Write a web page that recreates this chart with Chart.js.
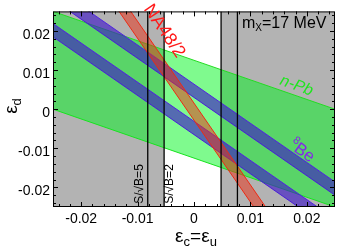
<!DOCTYPE html>
<html>
<head>
<meta charset="utf-8">
<script src="https://cdn.jsdelivr.net/npm/chart.js@4"></script>
<style>
  html, body { margin: 0; padding: 0; background: #fff; }
  #chart { display: block; }
</style>
</head>
<body>
<canvas id="chart" width="339" height="249"></canvas>
<script>
// x values at which every straight band edge is given
const xEnds = [-0.025, 0.025];

// n-Pb band (upper / lower edge, at xEnds)
const nPbUpper = [0.025, 0.0];
const nPbLower = [0.0, -0.025];

// 8Be bands, two branches
const beAHigh = [0.0314, -0.0186];
const beALow = [0.028, -0.022];
const beBHigh = [0.0219, -0.0281];
const beBLow = [0.0185, -0.0315];

// NA48/2 band
const naHigh = [0.0538, -0.0507];
const naLow = [0.0495, -0.0551];

// S/sqrt(B) = 5 and 2 lines
const sbLines = [-0.0082, -0.0053, 0.0048, 0.0077];

// grey excluded regions [from, to]
const greyLeft = [-0.025, -0.0053];
const greyRight = [0.0048, 0.025];

const xTicks = [-0.02, -0.01, 0, 0.01, 0.02];
const yTicks = [-0.02, -0.01, 0, 0.01, 0.02];

const FONT = "'Liberation Sans', Arial, Helvetica, sans-serif";

function pts(xs, ys) {
  return xs.map((x, i) => ({ x: x, y: ys[i] }));
}

function edge(ys, color, fillColor) {
  return {
    data: pts(xEnds, ys),
    borderColor: color,
    borderWidth: 1,
    backgroundColor: fillColor || "transparent",
    fill: fillColor ? "+1" : false,
    pointRadius: 0,
  };
}

function greyBox(range) {
  return {
    data: pts(range, [0.025, 0.025]),
    borderWidth: 0,
    backgroundColor: "#b3b3b3",
    fill: "start",
    pointRadius: 0,
  };
}

const datasets = [];
sbLines.forEach((v) => {
  datasets.push({
    data: pts([v, v], [-0.025, 0.025]),
    borderColor: "#000",
    borderWidth: 1.3,
    pointRadius: 0,
    fill: false,
  });
});
datasets.push(edge(naHigh, "#ee2a14", "rgba(235, 45, 20, 0.5)"));
datasets.push(edge(naLow, "#ee2a14"));
datasets.push(edge(beAHigh, "#5024e0", "rgba(60, 20, 200, 0.62)"));
datasets.push(edge(beALow, "#5024e0"));
datasets.push(edge(beBHigh, "#5024e0", "rgba(60, 20, 200, 0.62)"));
datasets.push(edge(beBLow, "#5024e0"));
datasets.push(edge(nPbUpper, "#22dd22", "rgba(0, 245, 30, 0.5)"));
datasets.push(edge(nPbLower, "#22dd22"));
datasets.push(greyBox(greyLeft));
datasets.push(greyBox(greyRight));

// draws rotated text made of pieces (for sub/superscripts)
function richText(ctx, parts, x, y, angle, align) {
  ctx.save();
  ctx.translate(x, y);
  ctx.rotate(angle);
  let w = 0;
  parts.forEach((p) => {
    ctx.font = p.f;
    p.w = ctx.measureText(p.t).width;
    w += p.w;
  });
  let cx = align === "center" ? -w / 2 : 0;
  parts.forEach((p) => {
    ctx.font = p.f;
    ctx.fillStyle = p.c || "#000";
    ctx.fillText(p.t, cx, p.dy || 0);
    cx += p.w;
  });
  ctx.restore();
}

const decor = {
  id: "decor",
  afterDatasetsDraw(chart) {
    const { ctx, chartArea: a, scales } = chart;
    const sx = scales.x;
    const sy = scales.y;
    ctx.save();
    ctx.strokeStyle = "#000";
    ctx.lineWidth = 1;
    ctx.strokeRect(a.left + 0.5, a.top + 0.5, a.right - a.left - 1, a.bottom - a.top - 1);

    ctx.beginPath();
    for (let i = -12; i <= 12; i++) {
      const len = i % 5 === 0 ? 5 : 3;
      const px = Math.round(sx.getPixelForValue(i * 0.002)) + 0.5;
      const py = Math.round(sy.getPixelForValue(i * 0.002)) + 0.5;
      ctx.moveTo(px, a.bottom);
      ctx.lineTo(px, a.bottom - len);
      ctx.moveTo(px, a.top);
      ctx.lineTo(px, a.top + len);
      ctx.moveTo(a.left, py);
      ctx.lineTo(a.left + len, py);
      ctx.moveTo(a.right, py);
      ctx.lineTo(a.right - len, py);
    }
    ctx.stroke();

    ctx.textBaseline = "alphabetic";
    const f = (s, style) => (style || "") + " " + s + "px " + FONT;

    richText(ctx, [
      { t: "m", f: f(16) },
      { t: "X", f: f(10), dy: 3 },
      { t: "=17 MeV", f: f(16) },
    ], 242, 28, 0, "left");

    richText(ctx, [{ t: "NA48/2", f: f(18), c: "#ff1a1a" }], 160, 34, 0.977, "center");
    richText(ctx, [{ t: "n-Pb", f: f(16, "italic"), c: "#1ee61e" }], 295, 90, 0.349, "center");
    richText(ctx, [
      { t: "8", f: f(11), c: "#8428e8", dy: -7 },
      { t: "Be", f: f(17), c: "#8428e8" },
    ], 299, 155, 0.628, "center");

    richText(ctx, [{ t: "S/\u221AB=5", f: f(12) }], 143, 184, -Math.PI / 2, "center");
    richText(ctx, [{ t: "S/\u221AB=2", f: f(12) }], 173, 184, -Math.PI / 2, "center");

    richText(ctx, [
      { t: "\u03B5", f: f(19) },
      { t: "d", f: f(13), dy: 4 },
    ], 17, 106, -Math.PI / 2, "center");

    richText(ctx, [
      { t: "\u03B5", f: f(19) },
      { t: "c", f: f(13), dy: 4 },
      { t: "=", f: f(19) },
      { t: "\u03B5", f: f(19) },
      { t: "u", f: f(13), dy: 4 },
    ], 196, 242, 0, "center");
    ctx.restore();
  },
};

new Chart(document.getElementById("chart"), {
  type: "line",
  data: { datasets: datasets },
  options: {
    responsive: false,
    animation: false,
    devicePixelRatio: 1,
    events: [],
    elements: { line: { tension: 0 } },
    layout: { padding: { left: 0, top: 3, right: 4, bottom: 0 } },
    plugins: { legend: { display: false }, tooltip: { enabled: false } },
    scales: {
      x: {
        type: "linear",
        min: -0.025,
        max: 0.025,
        grid: { display: false, drawTicks: false },
        border: { display: false },
        afterBuildTicks: (s) => { s.ticks = xTicks.map((v) => ({ value: v })); },
        afterFit: (s) => { s.height = 42; },
        ticks: {
          padding: 4,
          color: "#000",
          font: { family: FONT, size: 14 },
          maxRotation: 0,
          callback: (v) => (v === 0 ? "0" : v.toFixed(2)),
        },
      },
      y: {
        type: "linear",
        min: -0.025,
        max: 0.025,
        grid: { display: false, drawTicks: false },
        border: { display: false },
        afterBuildTicks: (s) => { s.ticks = yTicks.map((v) => ({ value: v })); },
        afterFit: (s) => { s.width = 53; },
        ticks: {
          padding: 3,
          labelOffset: 4,
          color: "#000",
          font: { family: FONT, size: 14 },
          callback: (v) => (v === 0 ? "0" : v.toFixed(2)),
        },
      },
    },
  },
  plugins: [decor],
});
</script>
</body>
</html>
